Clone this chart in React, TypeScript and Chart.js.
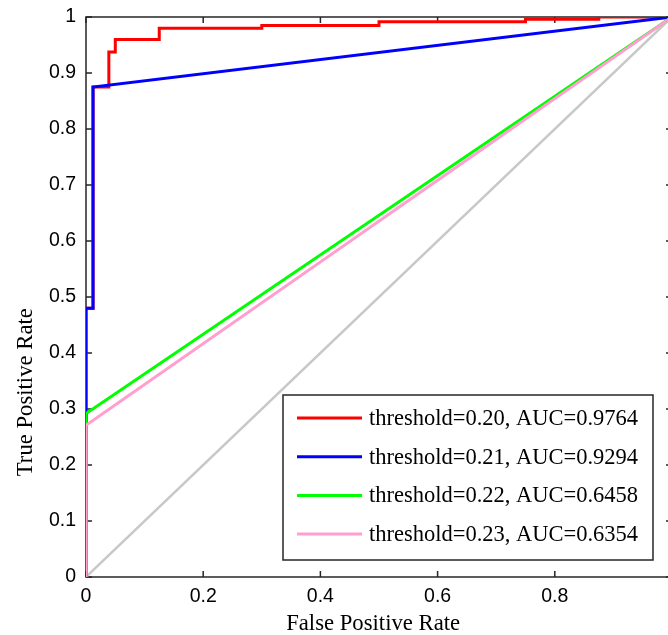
import React, { useEffect, useRef } from "react";
import { Chart, registerables } from "chart.js";

Chart.register(...registerables);

// ---- data ----
const redFpr = [0, 0, 0.012, 0.012, 0.039, 0.039, 0.05, 0.05, 0.125, 0.125, 0.3, 0.3, 0.5, 0.5, 0.75, 0.75, 0.875, 0.875, 1];
const redTpr = [0, 0.48, 0.48, 0.875, 0.875, 0.9375, 0.9375, 0.96, 0.96, 0.98, 0.98, 0.985, 0.985, 0.9916, 0.9916, 0.996, 0.996, 1, 1];
const blueFpr = [0, 0, 0.012, 0.012, 1];
const blueTpr = [0, 0.48, 0.48, 0.875, 1];
const greenFpr = [0, 0, 1];
const greenTpr = [0, 0.292, 1];
const pinkFpr = [0, 0, 1];
const pinkTpr = [0, 0.271, 1];
const chanceFpr = [0, 1];
const chanceTpr = [0, 1];

const seriesLabels = [
  "threshold=0.20, AUC=0.9764",
  "threshold=0.21, AUC=0.9294",
  "threshold=0.22, AUC=0.6458",
  "threshold=0.23, AUC=0.6354",
];
const seriesColors = ["#ff0000", "#0000ff", "#00ff00", "#ff9ecf"];
const chanceColor = "#c8c8c8";

const xTicks = [0, 0.2, 0.4, 0.6, 0.8, 1];
const xTickLabels = ["0", "0.2", "0.4", "0.6", "0.8", "1"];
const yTicks = [0, 0.1, 0.2, 0.3, 0.4, 0.5, 0.6, 0.7, 0.8, 0.9, 1];
const yTickLabels = ["0", "0.1", "0.2", "0.3", "0.4", "0.5", "0.6", "0.7", "0.8", "0.9", "1"];

const xTitle = "False Positive Rate";
const yTitle = "True Positive Rate";

const pts = (xs: number[], ys: number[]) => xs.map((x, i) => ({ x, y: ys[i] }));

const AXIS = "#262626";
const SERIF = "'Liberation Serif', 'Times New Roman', serif";
const SANS = "'Liberation Sans', Arial, sans-serif";

const boxPlugin = {
  id: "boxAxes",
  beforeDatasetsDraw(chart: any) {
    const { ctx, chartArea: a, scales } = chart;
    const xs = scales.x, ys = scales.y;
    ctx.save();
    ctx.strokeStyle = AXIS;
    ctx.lineWidth = 1.5;
    ctx.strokeRect(a.left, a.top, a.right - a.left, a.bottom - a.top);
    const L = 6;
    ctx.beginPath();
    xTicks.forEach((v) => {
      const px = xs.getPixelForValue(v);
      ctx.moveTo(px, a.bottom);
      ctx.lineTo(px, a.bottom - L);
      ctx.moveTo(px, a.top);
      ctx.lineTo(px, a.top + L);
    });
    yTicks.forEach((v) => {
      const py = ys.getPixelForValue(v);
      ctx.moveTo(a.left, py);
      ctx.lineTo(a.left + L, py);
      ctx.moveTo(a.right, py);
      ctx.lineTo(a.right - L, py);
    });
    ctx.stroke();

    // axis titles
    ctx.fillStyle = "#000000";
    ctx.font = `22.7px ${SERIF}`;
    ctx.textAlign = "center";
    ctx.textBaseline = "alphabetic";
    ctx.fillText(xTitle, a.left + (a.right - a.left) * 0.49, a.bottom + 53);
    ctx.save();
    ctx.translate(32, ys.getPixelForValue(0.33));
    ctx.rotate(-Math.PI / 2);
    ctx.fillText(yTitle, 0, 0);
    ctx.restore();
    ctx.restore();
  },
};

const legendPlugin = {
  id: "innerLegend",
  afterDatasetsDraw(chart: any) {
    const { ctx, chartArea: a } = chart;
    const right = a.right - 19;
    const bottom = a.bottom - 17;
    const w = 370;
    const h = 165;
    const left = right - w;
    const top = bottom - h;
    ctx.save();
    ctx.fillStyle = "#ffffff";
    ctx.fillRect(left, top, w, h);
    ctx.strokeStyle = AXIS;
    ctx.lineWidth = 1.5;
    ctx.strokeRect(left, top, w, h);
    ctx.font = `22.5px ${SERIF}`;
    ctx.textBaseline = "middle";
    ctx.textAlign = "left";
    const dsets = chart.data.datasets.filter((d: any) => !d.hideInLegend);
    dsets.forEach((d: any, i: number) => {
      const y = top + 23 + i * 38.7;
      ctx.strokeStyle = d.borderColor;
      ctx.lineWidth = 3;
      ctx.beginPath();
      ctx.moveTo(left + 14, y);
      ctx.lineTo(left + 79, y);
      ctx.stroke();
      ctx.fillStyle = "#000000";
      ctx.fillText(d.label, left + 86, y + 1);
    });
    ctx.restore();
  },
};

export default function App() {
  const ref = useRef<HTMLCanvasElement | null>(null);
  useEffect(() => {
    if (!ref.current) return;
    const mk = (label: string, data: any[], color: string, order: number, width = 3, hide = false) => ({
      label,
      data,
      borderColor: color,
      backgroundColor: color,
      borderWidth: width,
      pointRadius: 0,
      tension: 0,
      fill: false,
      clip: 0,
      order,
      hideInLegend: hide,
    });
    const chart = new Chart(ref.current, {
      type: "line",
      data: {
        datasets: [
          mk(seriesLabels[0], pts(redFpr, redTpr), seriesColors[0], 4),
          mk(seriesLabels[1], pts(blueFpr, blueTpr), seriesColors[1], 3),
          mk(seriesLabels[2], pts(greenFpr, greenTpr), seriesColors[2], 2),
          mk(seriesLabels[3], pts(pinkFpr, pinkTpr), seriesColors[3], 1),
          mk("chance", pts(chanceFpr, chanceTpr), chanceColor, 5, 2.5, true),
        ] as any,
      },
      options: {
        animation: false,
        responsive: false,
        devicePixelRatio: 1,
        layout: { padding: { top: 17, right: 8, left: 0, bottom: 0 } },
        plugins: { legend: { display: false }, tooltip: { enabled: false } },
        scales: {
          x: {
            type: "linear",
            min: 0,
            max: 1,
            afterBuildTicks: (s: any) => {
              s.ticks = xTicks.map((v) => ({ value: v }));
            },
            afterFit: (s: any) => {
              s.height = 58;
              s.paddingLeft = 0;
              s.paddingRight = 0;
            },
            grid: { display: false, drawTicks: false },
            border: { display: false },
            ticks: {
              callback: (_v: any, i: number) => xTickLabels[i],
              font: { family: SANS, size: 19.5 },
              color: "#000000",
              padding: 8,
              maxRotation: 0,
              autoSkip: false,
            },
            title: { display: false },
          },
          y: {
            type: "linear",
            min: 0,
            max: 1,
            afterBuildTicks: (s: any) => {
              s.ticks = yTicks.map((v) => ({ value: v }));
            },
            afterFit: (s: any) => {
              s.width = 86;
              s.paddingTop = 0;
              s.paddingBottom = 0;
            },
            grid: { display: false, drawTicks: false },
            border: { display: false },
            ticks: {
              callback: (_v: any, i: number) => yTickLabels[i],
              font: { family: SANS, size: 19.5 },
              color: "#000000",
              padding: 10,
              autoSkip: false,
            },
            title: { display: false },
          },
        },
      },
      plugins: [boxPlugin, legendPlugin],
    } as any);
    return () => chart.destroy();
  }, []);
  return (
    <div style={{ position: "absolute", left: 0, top: 0, width: 668, height: 635, overflow: "hidden", background: "#fff" }}>
      <canvas ref={ref} width={680} height={635} style={{ width: 680, height: 635, display: "block" }} />
    </div>
  );
}
